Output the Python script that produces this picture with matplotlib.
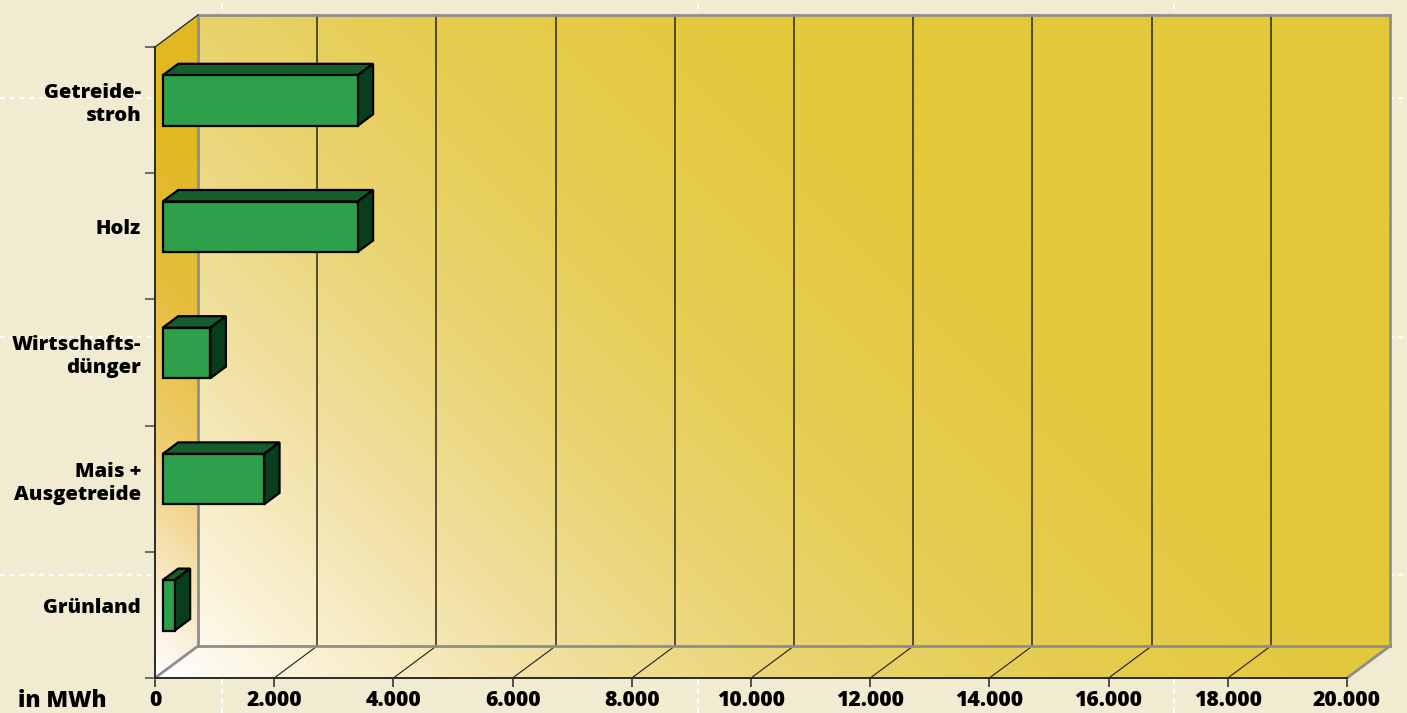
import numpy as np
import matplotlib.pyplot as plt
from matplotlib.patches import Polygon
from matplotlib.colors import to_rgb

# ---- data -------------------------------------------------------------
categories = ["Getreide-\nstroh", "Holz", "Wirtschafts-\ndünger",
              "Mais +\nAusgetreide", "Grünland"]
values_mwh = [3270, 3270, 800, 1700, 200]
x_ticks = [0, 2000, 4000, 6000, 8000, 10000, 12000, 14000, 16000, 18000, 20000]
x_tick_labels = ["0", "2.000", "4.000", "6.000", "8.000", "10.000",
                 "12.000", "14.000", "16.000", "18.000", "20.000"]
unit_label = "in MWh"

# ---- style ------------------------------------------------------------
plt.rcParams["font.family"] = ["Open Sans", "DejaVu Sans"]
WEIGHT = 800

FIG_W, FIG_H = 1407, 713
PAGE = "#F1EBD2"
FRONT, TOP_FACE, SIDE_FACE = "#2E9F4A", "#155D2D", "#093E1D"
FRAME = "#8E8E8E"

fig = plt.figure(figsize=(FIG_W / 100, FIG_H / 100), dpi=100)
fig.patch.set_facecolor(PAGE)

# dashed page guides lying behind the chart
guide = fig.add_axes([0, 0, 1, 1], zorder=0)
guide.set_xlim(0, FIG_W)
guide.set_ylim(FIG_H, 0)
guide.axis("off")
for gx in (222, 698, 1174):
    guide.axvline(gx, color="white", lw=1.6, ls=(0, (2.2, 2.2)))
for gy in (98, 337, 575):
    guide.axhline(gy, color="white", lw=1.6, ls=(0, (2.2, 2.2)))

# front plane of the 3-D box, in pixels
LEFT, RIGHT, TOP, BOTTOM = 155, 1347, 47, 678
DEPTH_X, DEPTH_Y = 43, 32

ax = fig.add_axes([LEFT / FIG_W, 1 - BOTTOM / FIG_H,
                   (RIGHT - LEFT) / FIG_W, (BOTTOM - TOP) / FIG_H], zorder=1)
xmax = x_ticks[-1]
n = len(categories)
ax.patch.set_visible(False)

# depth offset expressed in data units
dx = DEPTH_X / (RIGHT - LEFT) * xmax
dy = DEPTH_Y / (BOTTOM - TOP) * n


def ramp(s, stops):
    pos = np.array([p for p, _ in stops], float)
    cols = np.array([to_rgb(c) for _, c in stops])
    return np.dstack([np.interp(s, pos, cols[:, k]) for k in range(3)])


# diagonal gradient (white lower-left -> gold upper-right)
nx, ny = 700, 380
gx = np.linspace(0, xmax + dx, nx)
gy = np.linspace(0, n + dy, ny)
GX, GY = np.meshgrid(gx, gy)
S = GX / xmax * (RIGHT - LEFT) + GY / n * (BOTTOM - TOP)

wall_stops = [(0, "#FFFFFF"), (150, "#FBF3D9"), (400, "#F1E1A3"),
              (650, "#EAD472"), (900, "#E6CD52"), (1250, "#E3C83B"),
              (2000, "#E3C83A")]
side_stops = [(0, "#FFFFFF"), (110, "#F8E7C3"), (250, "#EECB6C"),
              (400, "#E6BE3C"), (560, "#E2B823"), (800, "#E2B822")]

extent = [0, xmax + dx, 0, n + dy]

back_poly = Polygon([(0, 0), (xmax, 0), (xmax + dx, dy), (xmax + dx, n + dy),
                     (dx, n + dy), (dx, dy)], closed=True, transform=ax.transData)
left_poly = Polygon([(0, 0), (dx, dy), (dx, n + dy), (0, n)], closed=True,
                    transform=ax.transData)

im1 = ax.imshow(ramp(S, wall_stops), extent=extent, origin="lower",
                aspect="auto", interpolation="bilinear", zorder=0)
im1.set_clip_path(back_poly)
im1.set_clip_box(fig.bbox)
im2 = ax.imshow(ramp(S, side_stops), extent=extent, origin="lower",
                aspect="auto", interpolation="bilinear", zorder=0)
im2.set_clip_path(left_poly)
im2.set_clip_box(fig.bbox)

ax.set_xlim(0, xmax)
ax.set_ylim(0, n)

# grid lines on the back wall and the floor
for xv in x_ticks[1:-1]:
    ax.plot([xv + dx, xv + dx], [dy, n + dy], color="#3A3420", lw=1.2,
            zorder=1, clip_on=False)
    ax.plot([xv, xv + dx], [0, dy], color="#1E1E1E", lw=0.8, zorder=1,
            clip_on=False)

# grey frame of the box
frame_lines = [
    ([dx, dx], [dy, n + dy]),
    ([dx, xmax + dx], [dy, dy]),
    ([dx, xmax + dx], [n + dy, n + dy]),
    ([xmax + dx, xmax + dx], [dy, n + dy]),
    ([xmax, xmax + dx], [0, dy]),
    ([0, dx], [0, dy]),
]
for xs, ys in frame_lines:
    ax.plot(xs, ys, color=FRAME, lw=2.0, zorder=2, clip_on=False,
            solid_capstyle="projecting")
ax.plot([0, dx], [n, n + dy], color="#222222", lw=0.9, zorder=2, clip_on=False)

# 3-D bars
D0, D1 = 0.18, 0.54
bar_h = 0.40
centers = n - 0.5 - np.arange(n)
ybar = centers + D0 * dy + 0.03
bars = ax.barh(ybar, values_mwh, height=bar_h, left=D0 * dx, color=FRONT,
               edgecolor="black", linewidth=1.6, zorder=6, clip_on=False)
ox, oy = (D1 - D0) * dx, (D1 - D0) * dy
for rect in bars:
    x0, y0 = rect.get_x(), rect.get_y()
    w, h = rect.get_width(), rect.get_height()
    top = Polygon([(x0, y0 + h), (x0 + w, y0 + h), (x0 + w + ox, y0 + h + oy),
                   (x0 + ox, y0 + h + oy)], closed=True, fc=TOP_FACE,
                  ec="black", lw=1.6, joinstyle="miter", zorder=5, clip_on=False)
    side = Polygon([(x0 + w, y0), (x0 + w + ox, y0 + oy),
                    (x0 + w + ox, y0 + h + oy), (x0 + w, y0 + h)], closed=True,
                   fc=SIDE_FACE, ec="black", lw=1.6, joinstyle="miter",
                   zorder=5, clip_on=False)
    ax.add_patch(top)
    ax.add_patch(side)

# front axes
for side_name in ("top", "right"):
    ax.spines[side_name].set_visible(False)
for side_name in ("left", "bottom"):
    ax.spines[side_name].set_color("#2A2A2A")
    ax.spines[side_name].set_linewidth(1.4)
    ax.spines[side_name].set_zorder(3)

ax.set_xticks(x_ticks, x_tick_labels)
ax.tick_params(axis="x", which="major", length=6.5, width=1.2, color="#333333",
               pad=2.4, labelsize=15.2, labelcolor="black")
ax.set_yticks(np.arange(n + 1))
ax.tick_params(axis="y", which="major", length=7, width=1.2, color="#555555",
               labelleft=False)
ax.set_yticks(ybar, categories, minor=True)
ax.tick_params(axis="y", which="minor", length=0, pad=10, labelsize=14.6)
for lab in ax.get_yticklabels(minor=True):
    lab.set_linespacing(1.2)
    lab.set_fontweight(WEIGHT)
for lab in ax.get_xticklabels():
    lab.set_fontweight(WEIGHT)

ax.annotate(unit_label, xy=(0, 0), xycoords="data",
            xytext=(-34.5, -21.2), textcoords="offset points",
            ha="right", va="baseline", fontsize=16.2, fontweight=WEIGHT,
            annotation_clip=False)

fig.savefig("out.png", dpi=100, facecolor=PAGE)
